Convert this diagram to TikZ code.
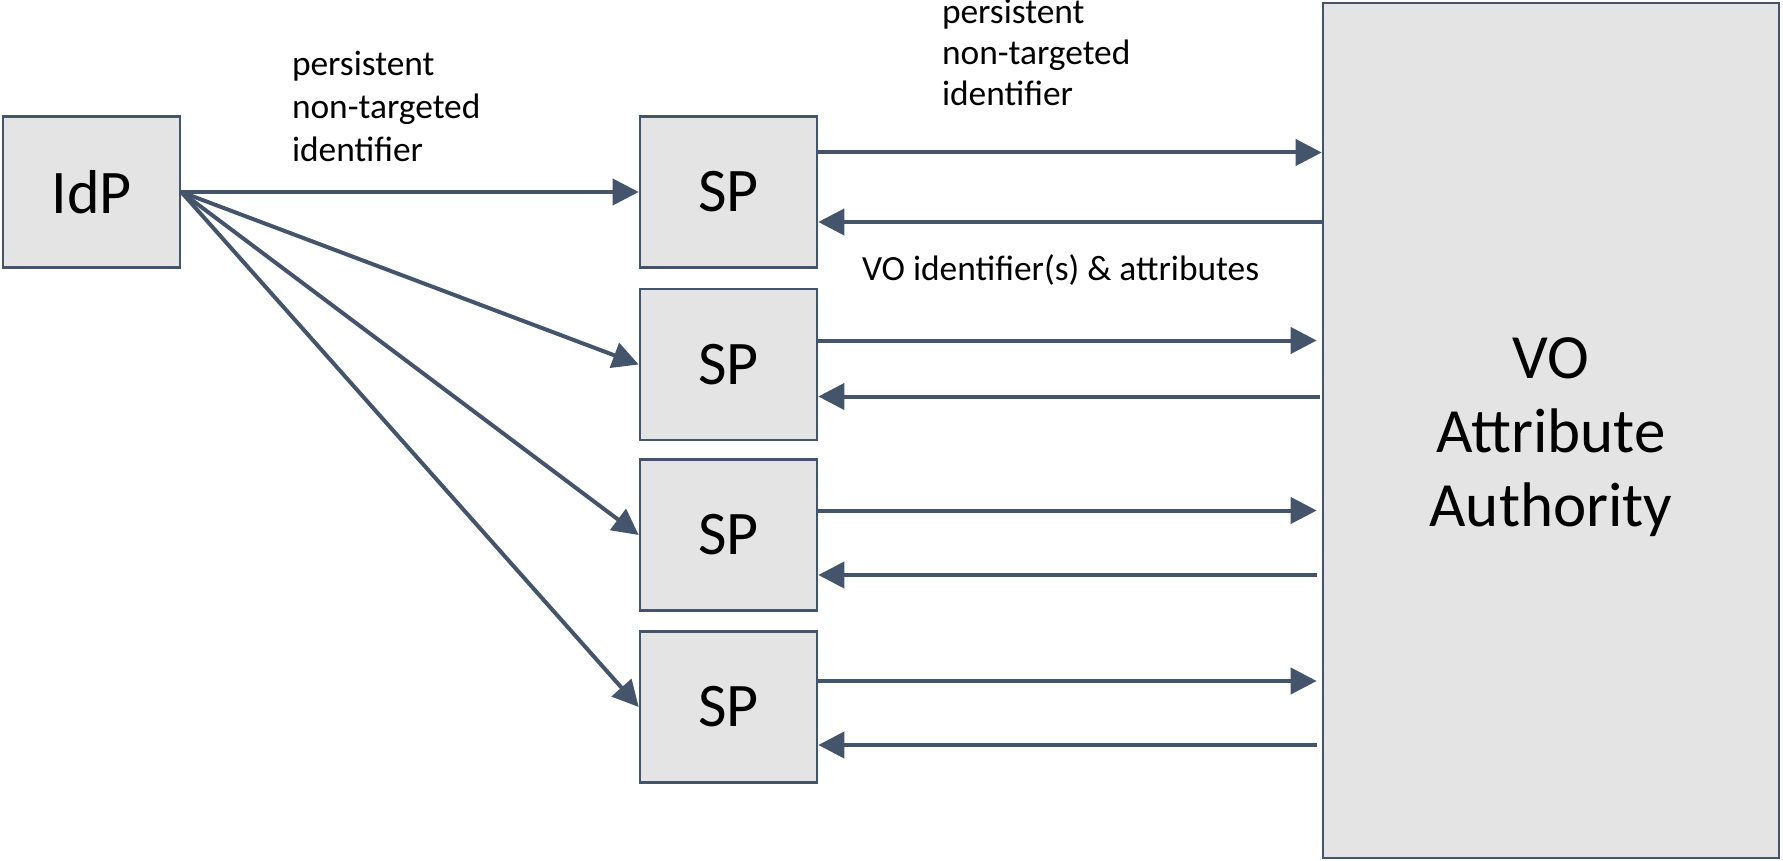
\documentclass[tikz,border=0pt]{standalone}
\usepackage{fontspec}
\setmainfont{Carlito}
\usepackage[svgnames]{xcolor}
\usetikzlibrary{arrows.meta}
\definecolor{Slate}{HTML}{44546A}
\definecolor{BoxGray}{HTML}{E4E4E4}

\begin{document}
\begin{tikzpicture}[-{Triangle[length=13pt,width=13pt]}, color=Slate, line width=2pt,
      x=0.5pt, y=-0.5pt,
      every node/.append style={font=\fontsize{17.7}{21.5}\selectfont, text=black}]
	  \tikzstyle{box} = [rectangle, draw=Slate, fill=BoxGray, line width=1.3pt, align=center,
	                     font=\fontsize{31}{37}\selectfont, minimum width=88.5pt, minimum height=75.5pt]
	  \tikzstyle{note} = [align=left, anchor=base west, inner sep=0pt]
	  \useasboundingbox (0,0) rectangle (1783,861);
	  \node (idp) [box] at (91.5,192) {IdP};
	  \node (sp1) [box] at (728.5,192) {SP};
	  \node (sp2) [box] at (728.5,364.5) {SP};
	  \node (sp3) [box] at (728.5,535) {SP};
	  \node (sp4) [box] at (728.5,707) {SP};
	  \node (vo) [box, minimum width=228pt, minimum height=427.5pt] at (1551,430.5) {};
	  \node (vo_txt) [align=center, font=\fontsize{31.5}{37}\selectfont] at ([yshift=-3.5pt]vo.center) {VO\\Attribute\\Authority};
	  \node (lbl_idp) [note] at (290,162) {persistent\\non-targeted\\identifier};
	  \node (lbl_sp) [note, font=\fontsize{17.7}{20.5}\selectfont] at (940,106) {persistent\\non-targeted\\identifier};
	  \node (lbl_vo) [note] at (860,281) {VO identifier(s) \& attributes};
	  \draw (idp.east) -- (sp1.west);
	  \draw (idp.east) -- (sp2.west);
	  \draw (idp.east) -- (sp3.west);
	  \draw (idp.east) -- (sp4.west);
	  \draw ([yshift=19.75pt]sp1.east) -- ([yshift=19.75pt]sp1.east -| vo.west);
	  \draw ([yshift=-15pt]sp1.east -| vo.west) -- ([yshift=-15pt]sp1.east);
	  \draw[shorten >=2.5pt] ([yshift=12pt]sp2.east) -- ([yshift=12pt]sp2.east -| vo.west);
	  \draw[shorten <=1pt] ([yshift=-16pt]sp2.east -| vo.west) -- ([yshift=-16pt]sp2.east);
	  \draw[shorten >=2.5pt] ([yshift=12.25pt]sp3.east) -- ([yshift=12.25pt]sp3.east -| vo.west);
	  \draw[shorten <=2.5pt] ([yshift=-20pt]sp3.east -| vo.west) -- ([yshift=-20pt]sp3.east);
	  \draw[shorten >=2.5pt] ([yshift=13pt]sp4.east) -- ([yshift=13pt]sp4.east -| vo.west);
	  \draw[shorten <=2.5pt] ([yshift=-19pt]sp4.east -| vo.west) -- ([yshift=-19pt]sp4.east);
\end{tikzpicture}
\end{document}
